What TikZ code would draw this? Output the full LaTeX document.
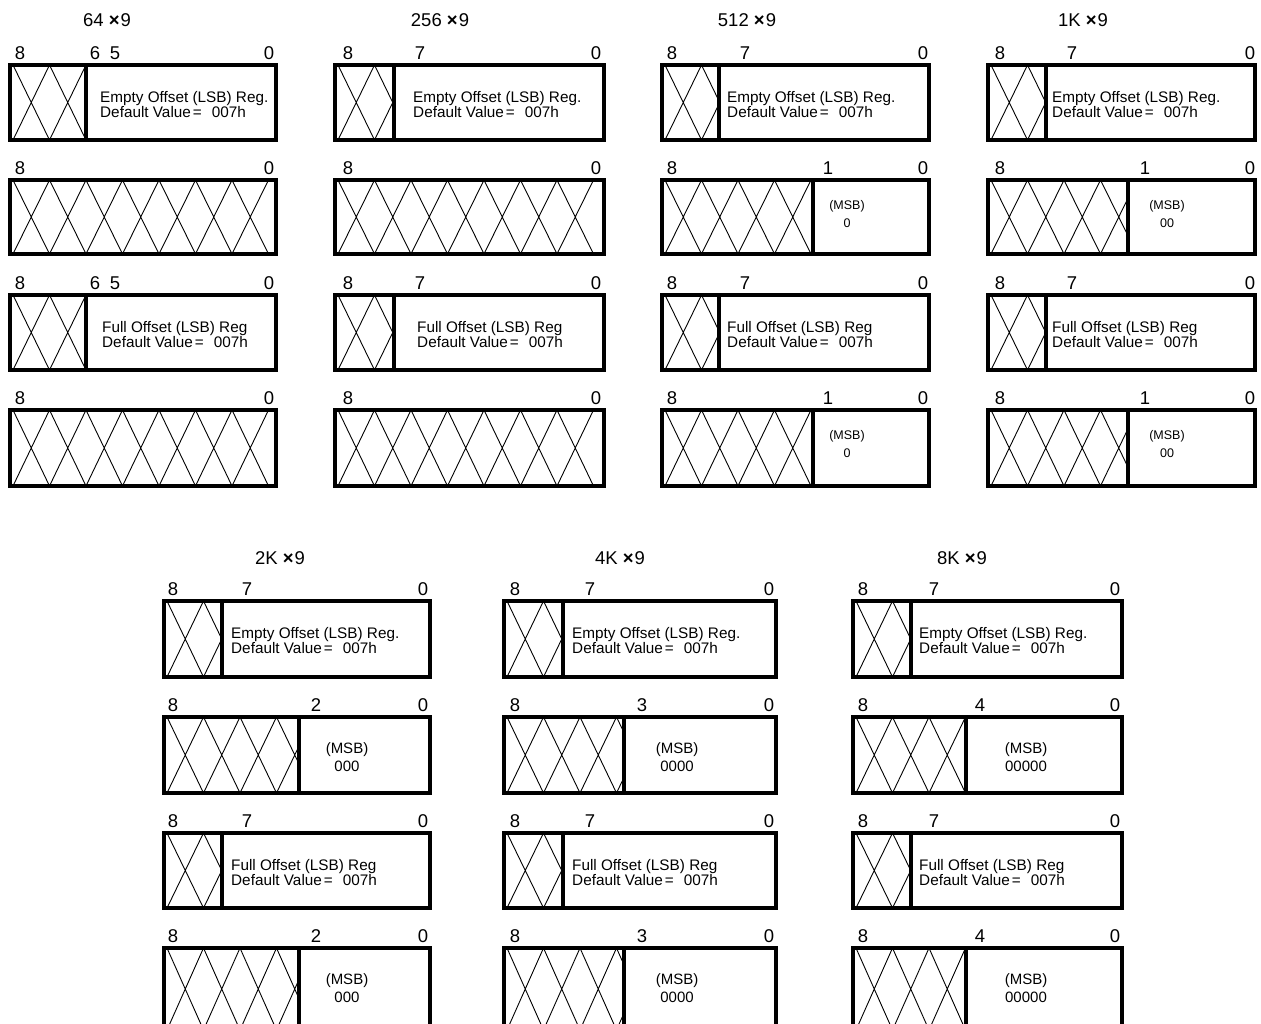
\documentclass[tikz,border=0pt]{standalone}
\usepackage{fontspec}
\setmainfont{Liberation Sans}
\newcommand\hatchzone[6]{% x0, x1, top, bottom, start, count
  \begin{scope}
    \clip (#1,#3) rectangle (#2,#4);
    \foreach \i in {1,...,#6}{%
      \pgfmathsetmacro\ha{#5+(\i-1)*36.5}%
      \pgfmathsetmacro\hb{\ha+36.5}%
      \draw[hat] (\ha,#3) -- (\hb,#4) (\hb,#3) -- (\ha,#4);
    }
  \end{scope}}
% name, L, R, D, top, bot, textx, first line
\newcommand\lsbrow[8]{%
  \hatchzone{#2}{#4}{#5}{#6}{#2+3}{2}
  \draw[box] (#2,#5) rectangle (#3,#6);
  \draw[box] (#4,#5) -- (#4,#6);
  \node[reg] (#1a) at (#7,#5+37) {#8};
  \node[reg] (#1b) at (#7,#5+52) {Default Value\kern2pt=\hspace{10pt}007h};}
% name, L, R, D, top, bot, msbx, value, first baseline offset
\newcommand\msbrow[9]{%
  \hatchzone{#2}{#4}{#5}{#6}{#2+3}{4}
  \draw[box] (#2,#5) rectangle (#3,#6);
  \draw[box] (#4,#5) -- (#4,#6);
  \node[msb] (#1a) at (#7,#5+#9) {(MSB)};
  \node[msb] (#1b) at (#7,#5+#9+18) {#8};}
% L, R, top, bot
\newcommand\fullrow[4]{%
  \hatchzone{#1}{#2}{#3}{#4}{#1+3}{7}
  \draw[box] (#1,#3) rectangle (#2,#4);}
% name, top, list
\newcommand\bitlabels[3]{%
  \foreach \x/\t [count=\k] in {#3}{\node[lbl] (#1l\k) at (\x,#2-6) {\t};}}
\def\msbsize{12.5}
\begin{document}
\begin{tikzpicture}[x=1pt,y=-1pt,
  box/.style={line width=3.2pt},
  hat/.style={line width=0.9pt},
  lbl/.style={font=\fontsize{18.5}{18.5}\selectfont, inner sep=0pt, anchor=base},
  ttl/.style={font=\fontsize{18.5}{18.5}\selectfont, inner sep=0pt, anchor=base},
  reg/.style={font=\fontsize{15.3}{15.3}\selectfont, inner sep=0pt, anchor=base west},
  msb/.style={font=\fontsize{\msbsize}{\msbsize}\selectfont, inner sep=0pt, anchor=base}]
\useasboundingbox (0,0) rectangle (1261,1023);
\clip (0,0) rectangle (1261,1023);
\fill[white] (0,0) rectangle (1261,1023);

% ---------- titles ----------
\node[ttl] (t1) at (107,26) {64 \textbf{×}\kern1pt9};
\node[ttl] (t2) at (440,26) {256 \textbf{×}\kern1pt9};
\node[ttl] (t3) at (747,26) {512 \textbf{×}\kern1pt9};
\node[ttl] (t4) at (1083,26) {1K \textbf{×}\kern1pt9};
\node[ttl] (t5) at (280,564) {2K \textbf{×}\kern1pt9};
\node[ttl] (t6) at (620,564) {4K \textbf{×}\kern1pt9};
\node[ttl] (t7) at (962,564) {8K \textbf{×}\kern1pt9};

% ---------- 64 x 9 ----------
\lsbrow{g1r1}{10}{276}{86}{65}{140}{100}{Empty Offset (LSB) Reg.}
\bitlabels{g1r1}{65}{20/8,95/6,115/5,269/0}
\fullrow{10}{276}{180}{254}
\bitlabels{g1r2}{180}{20/8,269/0}
\lsbrow{g1r3}{10}{276}{86}{295}{370}{102}{Full Offset (LSB) Reg}
\bitlabels{g1r3}{295}{20/8,95/6,115/5,269/0}
\fullrow{10}{276}{410}{486}
\bitlabels{g1r4}{410}{20/8,269/0}

% ---------- 256 x 9 ----------
\lsbrow{g2r1}{335}{604}{394}{65}{140}{413}{Empty Offset (LSB) Reg.}
\bitlabels{g2r1}{65}{348/8,420/7,596/0}
\fullrow{335}{604}{180}{254}
\bitlabels{g2r2}{180}{348/8,596/0}
\lsbrow{g2r3}{335}{604}{394}{295}{370}{417}{Full Offset (LSB) Reg}
\bitlabels{g2r3}{295}{348/8,420/7,596/0}
\fullrow{335}{604}{410}{486}
\bitlabels{g2r4}{410}{348/8,596/0}

% ---------- 512 x 9 ----------
\lsbrow{g3r1}{662}{929}{719}{65}{140}{727}{Empty Offset (LSB) Reg.}
\bitlabels{g3r1}{65}{672/8,745/7,923/0}
\msbrow{g3r2}{662}{929}{813}{180}{254}{847}{0}{29}
\bitlabels{g3r2}{180}{672/8,828/1,923/0}
\lsbrow{g3r3}{662}{929}{719}{295}{370}{727}{Full Offset (LSB) Reg}
\bitlabels{g3r3}{295}{672/8,745/7,923/0}
\msbrow{g3r4}{662}{929}{813}{410}{486}{847}{0}{29}
\bitlabels{g3r4}{410}{672/8,828/1,923/0}

% ---------- 1K x 9 ----------
\lsbrow{g4r1}{988}{1255}{1046}{65}{140}{1052}{Empty Offset (LSB) Reg.}
\bitlabels{g4r1}{65}{1000/8,1072/7,1250/0}
\msbrow{g4r2}{988}{1255}{1128}{180}{254}{1167}{00}{29}
\bitlabels{g4r2}{180}{1000/8,1145/1,1250/0}
\lsbrow{g4r3}{988}{1255}{1046}{295}{370}{1052}{Full Offset (LSB) Reg}
\bitlabels{g4r3}{295}{1000/8,1072/7,1250/0}
\msbrow{g4r4}{988}{1255}{1128}{410}{486}{1167}{00}{29}
\bitlabels{g4r4}{410}{1000/8,1145/1,1250/0}

\def\msbsize{15}
% ---------- 2K x 9 ----------
\lsbrow{g5r1}{164}{430}{222}{601}{677}{231}{Empty Offset (LSB) Reg.}
\bitlabels{g5r1}{601}{173/8,247/7,423/0}
\msbrow{g5r2}{164}{430}{299}{717}{793}{347}{000}{36}
\bitlabels{g5r2}{717}{173/8,316/2,423/0}
\lsbrow{g5r3}{164}{430}{222}{833}{908}{231}{Full Offset (LSB) Reg}
\bitlabels{g5r3}{833}{173/8,247/7,423/0}
\msbrow{g5r4}{164}{430}{299}{948}{1030}{347}{000}{36}
\bitlabels{g5r4}{948}{173/8,316/2,423/0}

% ---------- 4K x 9 ----------
\lsbrow{g6r1}{504}{776}{563}{601}{677}{572}{Empty Offset (LSB) Reg.}
\bitlabels{g6r1}{601}{515/8,590/7,769/0}
\msbrow{g6r2}{504}{776}{624}{717}{793}{677}{0000}{36}
\bitlabels{g6r2}{717}{515/8,642/3,769/0}
\lsbrow{g6r3}{504}{776}{563}{833}{908}{572}{Full Offset (LSB) Reg}
\bitlabels{g6r3}{833}{515/8,590/7,769/0}
\msbrow{g6r4}{504}{776}{624}{948}{1030}{677}{0000}{36}
\bitlabels{g6r4}{948}{515/8,642/3,769/0}

% ---------- 8K x 9 ----------
\lsbrow{g7r1}{853}{1122}{911}{601}{677}{919}{Empty Offset (LSB) Reg.}
\bitlabels{g7r1}{601}{863/8,934/7,1115/0}
\msbrow{g7r2}{853}{1122}{966}{717}{793}{1026}{00000}{36}
\bitlabels{g7r2}{717}{863/8,980/4,1115/0}
\lsbrow{g7r3}{853}{1122}{911}{833}{908}{919}{Full Offset (LSB) Reg}
\bitlabels{g7r3}{833}{863/8,934/7,1115/0}
\msbrow{g7r4}{853}{1122}{966}{948}{1030}{1026}{00000}{36}
\bitlabels{g7r4}{948}{863/8,980/4,1115/0}
\end{tikzpicture}
\end{document}
